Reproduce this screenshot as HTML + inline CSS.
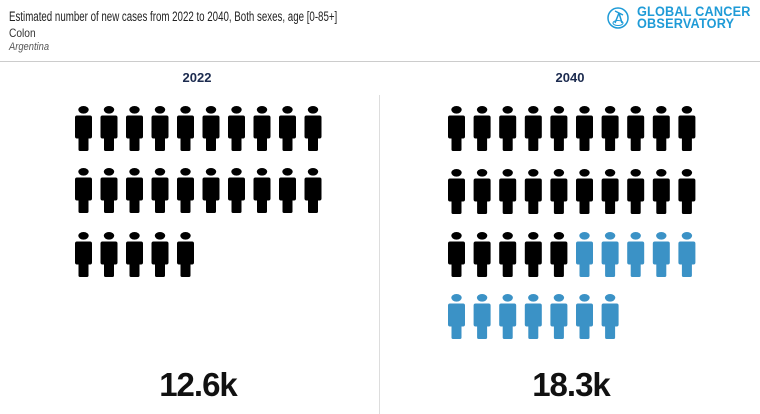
<!DOCTYPE html>
<html><head><meta charset="utf-8"><style>
body{margin:0;width:760px;height:414px;background:#fff;font-family:"Liberation Sans",sans-serif;overflow:hidden;position:relative}
.t{position:absolute;left:9px;top:9px;font-size:13.5px;color:#222;transform:scaleX(0.72);transform-origin:left top;white-space:nowrap}
.s{position:absolute;left:9px;top:26px;font-size:12px;color:#333;transform:scaleX(0.85);transform-origin:left top}
.c{position:absolute;left:9px;top:41px;font-size:11px;font-style:italic;color:#555;transform:scaleX(0.85);transform-origin:left top}
.hr{position:absolute;left:0;top:61px;width:760px;height:1px;background:#ccc}
.vr{position:absolute;left:379px;top:95px;width:1px;height:319px;background:#ddd}
.yr{position:absolute;top:70px;font-size:13px;font-weight:bold;color:#1c2b4f;width:100px;text-align:center}
.big{position:absolute;top:366px;font-size:33px;font-weight:bold;color:#111;width:200px;text-align:center;letter-spacing:-1px}
.logo{position:absolute;left:637px;top:6px;font-size:13.5px;font-weight:bold;color:#1f9bd7;line-height:11.5px;letter-spacing:0.2px;transform:scaleX(0.94);transform-origin:left top;white-space:nowrap}
</style></head><body>
<div class="t">Estimated number of new cases from 2022 to 2040, Both sexes, age [0-85+]</div>
<div class="s">Colon</div>
<div class="c">Argentina</div>
<div class="hr"></div>
<div class="vr"></div>
<svg style="position:absolute;left:607px;top:6px" width="24" height="24"><circle cx="11" cy="12" r="10" fill="none" stroke="#1f9bd7" stroke-width="1.5"/><path d="M8 5l8 4M12 7l-4 10M12 7l3 10" stroke="#1f9bd7" stroke-width="1.5" fill="none"/><ellipse cx="11" cy="17" rx="5" ry="2.5" fill="none" stroke="#1f9bd7"/></svg>
<div class="logo">GLOBAL CANCER<br>OBSERVATORY</div>
<div class="yr" style="left:147px">2022</div>
<div class="yr" style="left:520px">2040</div>
<svg style="position:absolute;left:0;top:0" width="760" height="414">
<defs><g id="p"><ellipse cx="8.5" cy="3.8" rx="5.2" ry="3.8"/><path d="M2 9.5h13q2 0 2 2v19q0 2-2 2h-1.5v11q0 1.5-1.5 1.5h-7q-1.5 0-1.5-1.5v-11H2q-2 0-2-2v-19q0-2 2-2z"/></g></defs>
<g fill="#000" id="L"></g><g id="R"></g>
</svg>
<script>
var ns="http://www.w3.org/2000/svg";
function put(g,x,y,col){var u=document.createElementNS(ns,"use");u.setAttribute("href","#p");u.setAttribute("x",x);u.setAttribute("y",y);u.setAttribute("fill",col);g.appendChild(u);}
var L=document.getElementById("L"),R=document.getElementById("R");
var ly=[106,168,232];
for(var i=0;i<25;i++){put(L,75+(i%10)*25.5,ly[Math.floor(i/10)],"#000");}
var ry=[106,169,232,294];
for(var i=0;i<37;i++){put(R,448+(i%10)*25.6,ry[Math.floor(i/10)],i<25?"#000":"#3b92c6");}
</script>
<div class="big" style="left:98px">12.6k</div>
<div class="big" style="left:471px">18.3k</div>
</body></html>
